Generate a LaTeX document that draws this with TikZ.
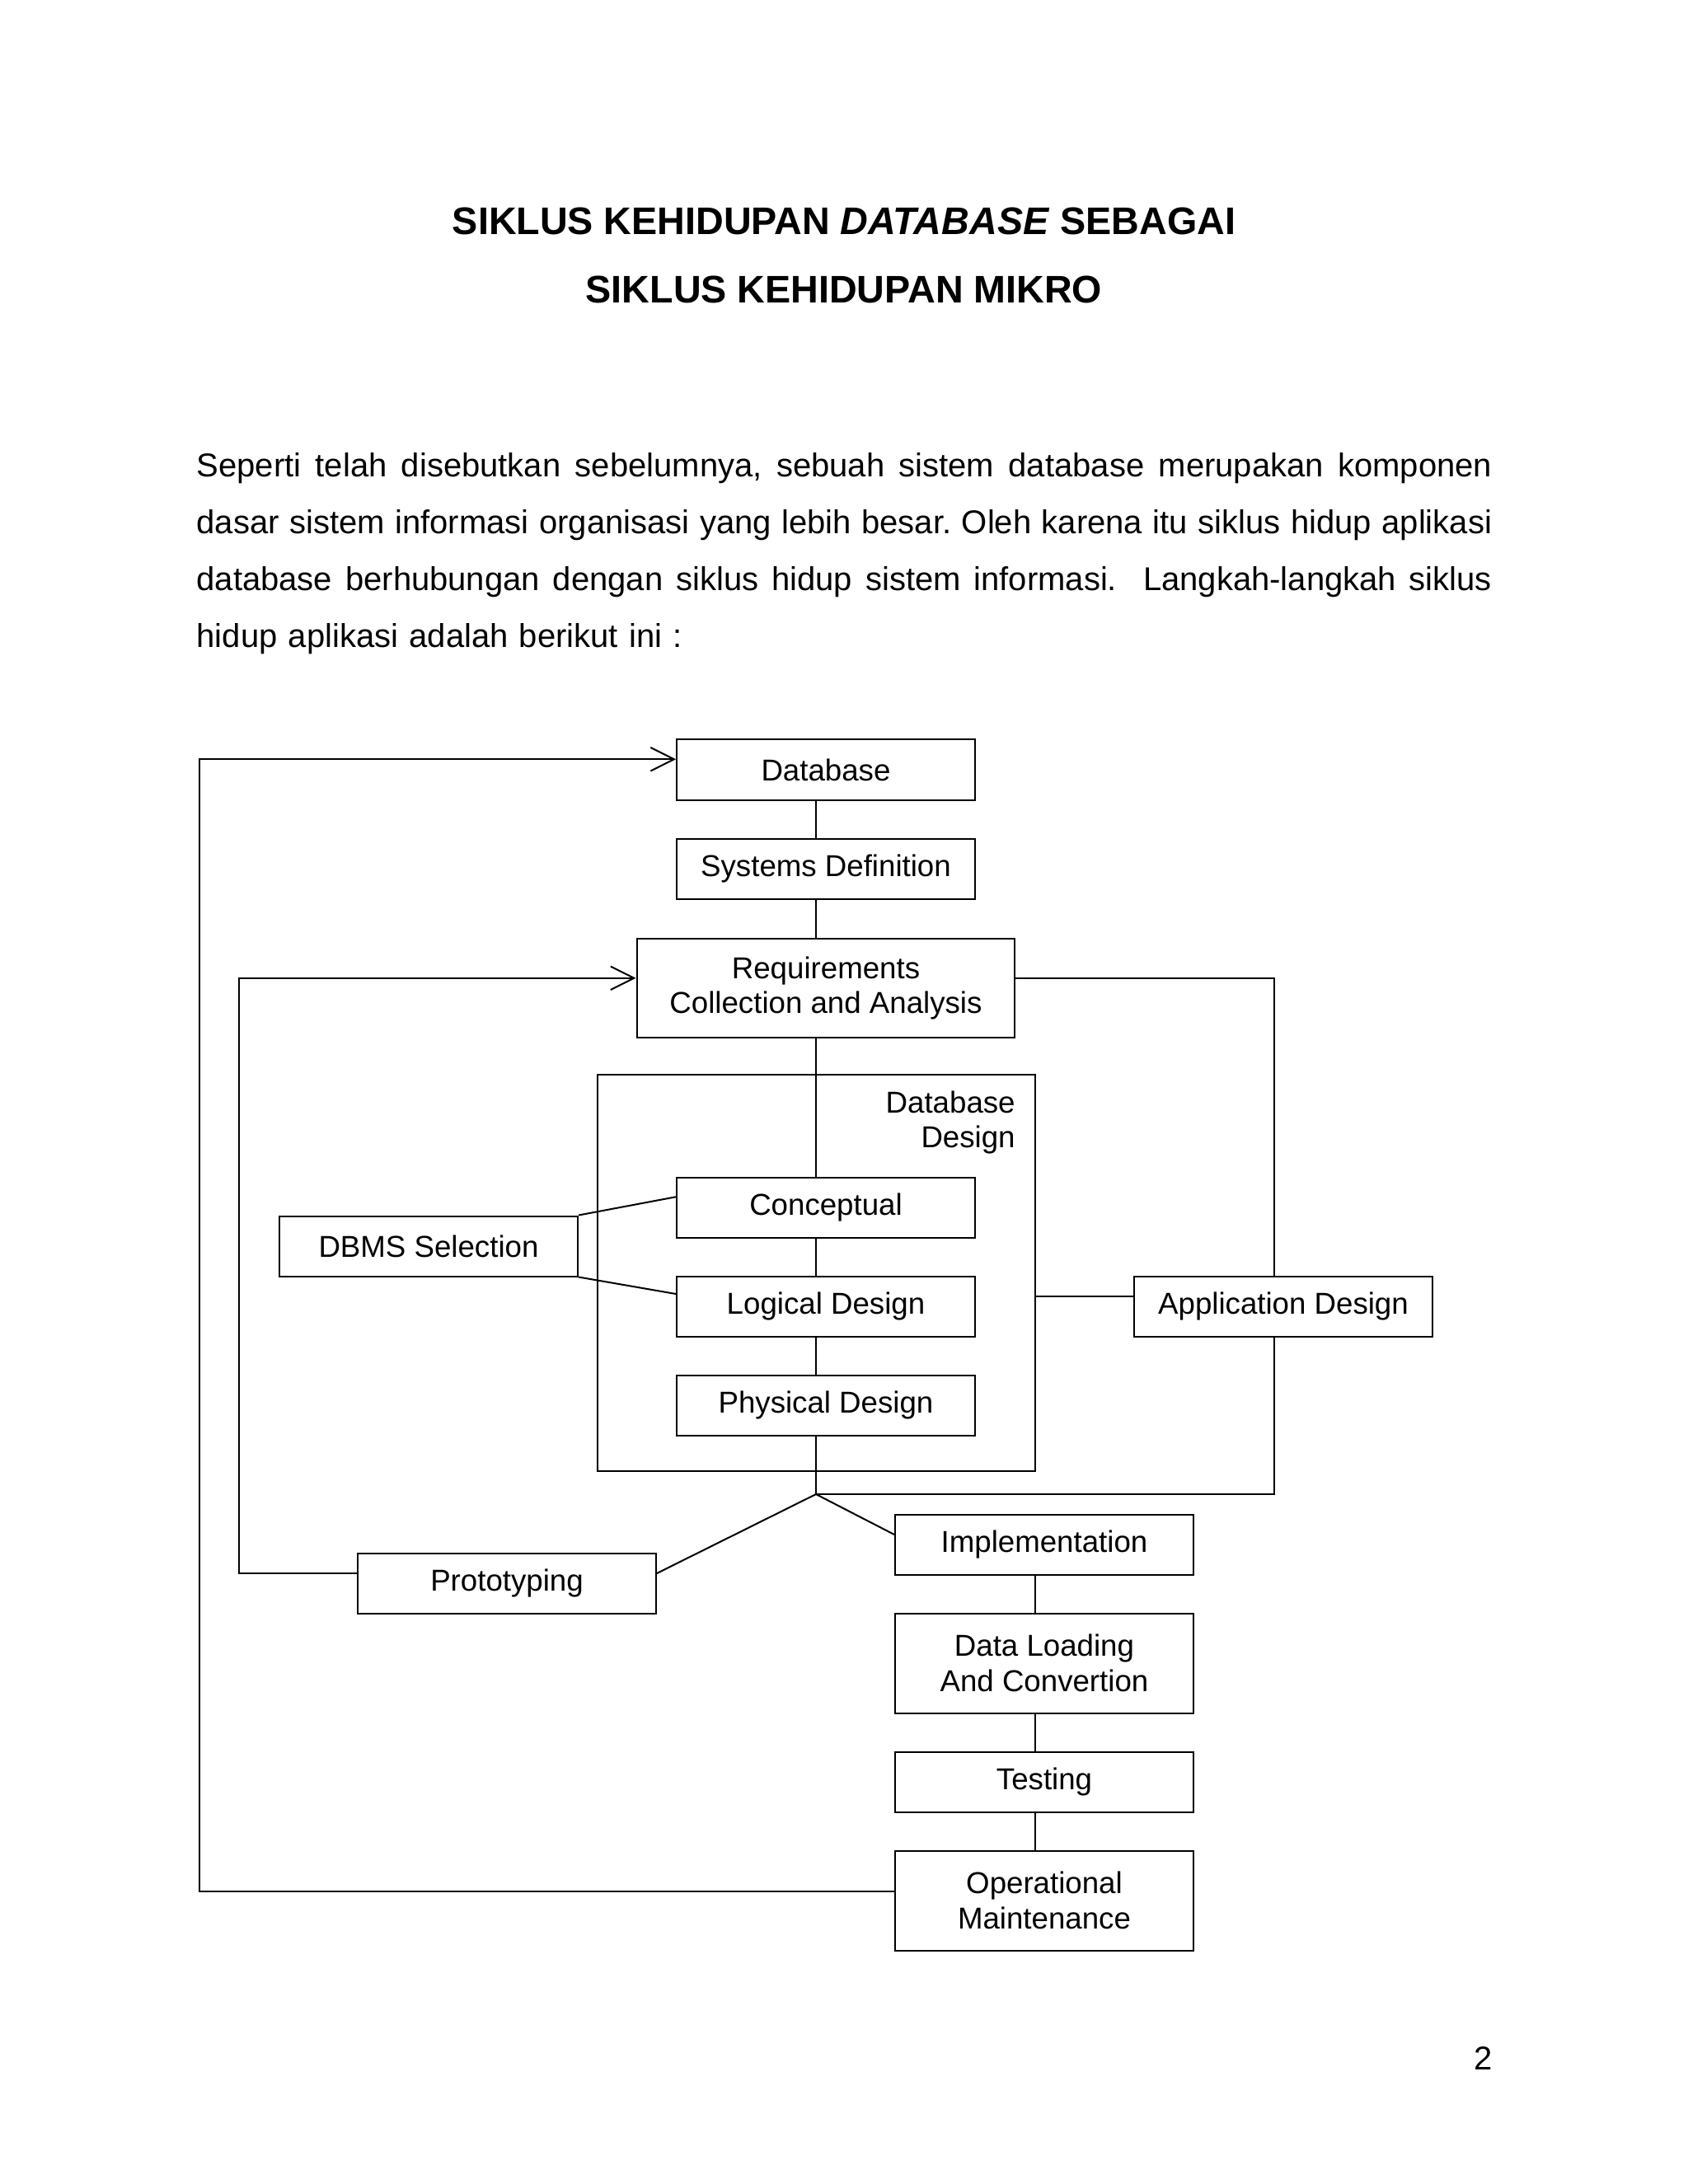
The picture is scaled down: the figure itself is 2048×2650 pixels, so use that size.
\documentclass[tikz,border=0pt]{standalone}
\usepackage{fontspec}
\setmainfont{Liberation Sans}
\usetikzlibrary{positioning,calc,arrows.meta}

\newcommand{\jline}[1]{\leavevmode\hbox to 165.7mm{\frenchspacing\spaceskip=0.278em plus 1fil\relax #1}}

\tikzset{
  stage/.style={draw, line width=0.6pt, minimum width=38.16mm, minimum height=7.7mm,
    inner sep=0pt, align=center, font=\fontsize{11}{12.7}\selectfont},
  tallstage/.style={stage, minimum height=12.76mm},
  link/.style={line width=0.6pt},
  back/.style={link, -{Straight Barb[length=3mm,width=3mm]}},
}

\begin{document}
\begin{tikzpicture}[x=0.010542cm, y=-0.010542cm]
\useasboundingbox (0,0) rectangle (2048,2650);
% title and text
\node[anchor=base, font=\fontsize{14}{16}\selectfont\bfseries] (title1) at (1024,284) {SIKLUS KEHIDUPAN \textit{DATABASE} SEBAGAI};
\node[anchor=base, font=\fontsize{14}{16}\selectfont\bfseries] (title2) at (1024,367) {SIKLUS KEHIDUPAN MIKRO};
\node[anchor=base west, inner sep=0pt, text width=165.7mm, align=left, font=\fontsize{12}{20.7}\selectfont] (intro) at (238,578)
  {\jline{Seperti telah disebutkan sebelumnya, sebuah sistem database merupakan komponen}\\
   \jline{dasar sistem informasi organisasi yang lebih besar. Oleh karena itu siklus hidup aplikasi}\\
   \jline{database berhubungan dengan siklus hidup sistem informasi.\ \ Langkah-langkah siklus}\\
   hidup aplikasi adalah berikut ini :};
\node[anchor=base, font=\fontsize{12}{14}\selectfont] (pagenum) at (1800,2511) {2};

% stages
\node[stage] (db) at (1002,934) {Database};
\node[stage] (sysdef) at (1002,1054) {Systems Definition};
\node[stage, minimum width=48.39mm, minimum height=12.65mm] (req) at (1002,1199) {Requirements\\Collection and Analysis};
\node[draw, line width=0.6pt, minimum width=55.98mm, minimum height=50.71mm, inner sep=0pt] (dbdesign) at (990.5,1544.5) {};
\node[anchor=north east, inner sep=0pt, align=right, font=\fontsize{11}{12.7}\selectfont] (dblabel)
  at ([xshift=-2.6mm,yshift=-2.1mm]dbdesign.north east) {Database\\Design};
\node[stage] (concept) at (1002,1465) {Conceptual};
\node[stage] (logical) at (1002,1585) {Logical Design};
\node[stage] (physical) at (1002,1705) {Physical Design};
\node[stage] (dbms) at (520,1512) {DBMS Selection};
\node[stage] (appdes) at (1557,1585) {Application Design};
\node[stage] (impl) at (1267,1874) {Implementation};
\node[stage] (proto) at (615,1921) {Prototyping};
\node[tallstage] (dataload) at (1267,2018) {Data Loading\\And Convertion};
\node[stage] (testing) at (1267,2162) {Testing};
\node[tallstage] (opmaint) at (1267,2306) {Operational\\Maintenance};

\coordinate (spine) at (990,0);
\coordinate (lowspine) at (1256,0);
\coordinate (rspine) at (1546,0);
\coordinate (outer) at (242,0);
\coordinate (inner) at (290,0);
\coordinate (fork) at (990,1813);
\coordinate (dbin) at ($(db.north west)!0.33!(db.south west)$);
\coordinate (reqin) at ($(req.north west)!0.4!(req.south west)$);
\coordinate (reqout) at ($(req.north east)!0.4!(req.south east)$);
\coordinate (appin) at ($(appdes.north west)!0.34!(appdes.south west)$);
\coordinate (protoout) at ($(proto.north west)!0.34!(proto.south west)$);
\coordinate (opout) at ($(opmaint.north west)!0.41!(opmaint.south west)$);

% main line
\draw[link] (db.south -| spine) -- (sysdef.north -| spine);
\draw[link] (sysdef.south -| spine) -- (req.north -| spine);
\draw[link] (req.south -| spine) -- (concept.north -| spine);
\draw[link] (concept.south -| spine) -- (logical.north -| spine);
\draw[link] (logical.south -| spine) -- (physical.north -| spine);
\draw[link] (physical.south -| spine) -- (fork);
\draw[link] (dbms.north east) -- ($(concept.north west)!0.33!(concept.south west)$);
\draw[link] (dbms.south east) -- ($(logical.north west)!0.3!(logical.south west)$);
\draw[link] (appin) -- (appin -| dbdesign.east);
\draw[link] (reqout) -- (reqout -| rspine) -- (appdes.north -| rspine);
\draw[link] (appdes.south -| rspine) -- (fork -| rspine) -- (fork);
\draw[link] (fork) -- (protoout -| proto.east);
\draw[link] (fork) -- ($(impl.north west)!0.34!(impl.south west)$);
\draw[link] (impl.south -| lowspine) -- (dataload.north -| lowspine);
\draw[link] (dataload.south -| lowspine) -- (testing.north -| lowspine);
\draw[link] (testing.south -| lowspine) -- (opmaint.north -| lowspine);
% loops back
\draw[back] (protoout) -- (protoout -| inner) -- (reqin -| inner) -- (reqin);
\draw[back] (opout) -- (opout -| outer) -- (dbin -| outer) -- (dbin);
\end{tikzpicture}
\end{document}
